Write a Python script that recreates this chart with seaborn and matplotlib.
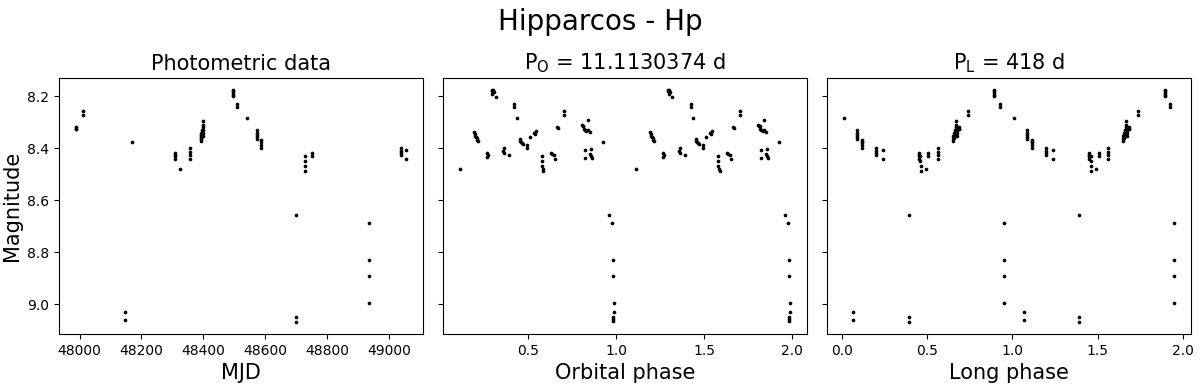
import numpy as np
import pandas as pd
import matplotlib
matplotlib.use("Agg")
import matplotlib.pyplot as plt
import seaborn as sns

# ---- Photometric data (MJD vs Hp magnitude) ----
mjd = [47987, 47988, 47988,
       48011, 48011,
       48147, 48147,
       48169,
       48309, 48309, 48309, 48309,
       48326,
       48356, 48356, 48356, 48356,
       48391, 48391, 48391, 48393, 48393, 48393, 48397, 48397,
       48400, 48400, 48400, 48400, 48400, 48400,
       48495, 48495, 48495, 48495, 48495,
       48508, 48508,
       48541,
       48574, 48574, 48574, 48574, 48574,
       48586, 48586, 48586, 48586,
       48701, 48701, 48701,
       48730, 48730, 48730, 48730,
       48751, 48751,
       48935, 48935, 48935, 48935,
       49040, 49040, 49040, 49040,
       49056, 49056]
mag_t = [8.318, 8.325, 8.328,
         8.258, 8.274,
         9.031, 9.061,
         8.377,
         8.418, 8.425, 8.432, 8.440,
         8.482,
         8.400, 8.415, 8.425, 8.440,
         8.355, 8.365, 8.372, 8.340, 8.350, 8.360, 8.330, 8.345,
         8.295, 8.310, 8.320, 8.330, 8.340, 8.355,
         8.175, 8.180, 8.188, 8.195, 8.200,
         8.230, 8.240,
         8.284,
         8.332, 8.340, 8.348, 8.356, 8.363,
         8.368, 8.378, 8.388, 8.398,
         8.659, 9.051, 9.070,
         8.432, 8.450, 8.468, 8.488,
         8.419, 8.430,
         8.686, 8.831, 8.893, 8.995,
         8.400, 8.410, 8.418, 8.426,
         8.407, 8.440]

# ---- Orbital phase (one cycle; drawn twice) ----
orb_phase = [0.112,
             0.193, 0.197, 0.200, 0.204, 0.208, 0.212, 0.217,
             0.268, 0.270, 0.268,
             0.293, 0.297, 0.302, 0.306, 0.298, 0.319,
             0.362, 0.360, 0.364, 0.390,
             0.423, 0.423,
             0.438,
             0.452, 0.456, 0.460, 0.465, 0.470,
             0.492, 0.492,
             0.509,
             0.534, 0.538, 0.543,
             0.581, 0.581, 0.580, 0.585, 0.588,
             0.632, 0.636, 0.649, 0.655,
             0.665, 0.668,
             0.705, 0.705,
             0.805, 0.810, 0.815, 0.820, 0.826, 0.832, 0.843, 0.852, 0.840,
             0.824, 0.824, 0.852, 0.858, 0.862, 0.855,
             0.924,
             0.962, 0.975, 0.983, 0.983, 0.990, 0.988,
             0.980, 0.985, 0.982]
mag_orb = [8.482,
           8.337, 8.345, 8.352, 8.358, 8.362, 8.367, 8.372,
           8.420, 8.428, 8.434,
           8.175, 8.180, 8.177, 8.185, 8.190, 8.204,
           8.400, 8.410, 8.418, 8.425,
           8.230, 8.240,
           8.284,
           8.366, 8.372, 8.376, 8.380, 8.384,
           8.386, 8.398,
           8.358,
           8.340, 8.347, 8.335,
           8.432, 8.450, 8.468, 8.480, 8.488,
           8.419, 8.422, 8.427, 8.440,
           8.318, 8.322,
           8.258, 8.274,
           8.311, 8.313, 8.316, 8.325, 8.330, 8.333, 8.293, 8.337, 8.330,
           8.407, 8.439, 8.424, 8.405, 8.437, 8.430,
           8.377,
           8.659, 8.686, 8.831, 8.893, 8.995, 9.031,
           9.051, 9.058, 9.065]

# ---- Long phase (P = 418 d; one cycle; drawn twice) ----
long_phase = [0.010,
              0.066, 0.066,
              0.086, 0.086, 0.087, 0.088, 0.088,
              0.114, 0.114, 0.115, 0.115, 0.118,
              0.200, 0.200, 0.200, 0.200,
              0.238, 0.238,
              0.393, 0.393, 0.393,
              0.450, 0.450, 0.451, 0.451,
              0.460, 0.460, 0.461, 0.462,
              0.492,
              0.507, 0.507,
              0.564, 0.564, 0.564, 0.564,
              0.650, 0.650, 0.650, 0.655, 0.655, 0.655, 0.663, 0.663,
              0.670, 0.670, 0.670, 0.672, 0.672, 0.672,
              0.687, 0.687, 0.687,
              0.737, 0.737,
              0.895, 0.895, 0.895, 0.895, 0.895,
              0.928, 0.928,
              0.952, 0.952, 0.952, 0.952]
mag_long = [8.284,
            9.031, 9.061,
            8.332, 8.340, 8.348, 8.356, 8.363,
            8.368, 8.378, 8.388, 8.398, 8.377,
            8.400, 8.410, 8.418, 8.426,
            8.407, 8.440,
            8.659, 9.051, 9.070,
            8.418, 8.425, 8.432, 8.440,
            8.432, 8.450, 8.468, 8.488,
            8.482,
            8.419, 8.430,
            8.400, 8.415, 8.425, 8.440,
            8.355, 8.365, 8.372, 8.340, 8.350, 8.360, 8.330, 8.345,
            8.295, 8.310, 8.320, 8.330, 8.340, 8.355,
            8.318, 8.325, 8.328,
            8.258, 8.274,
            8.175, 8.180, 8.188, 8.195, 8.200,
            8.230, 8.240,
            8.686, 8.831, 8.893, 8.995]

suptitle = "Hipparcos - Hp"
titles = ["Photometric data", r"P$_\mathrm{O}$ = 11.1130374 d", r"P$_\mathrm{L}$ = 418 d"]
xlabels = ["MJD", "Orbital phase", "Long phase"]

df_t = pd.DataFrame({"x": mjd, "mag": mag_t})
df_o = pd.DataFrame({"x": np.concatenate([orb_phase, np.array(orb_phase) + 1]),
                     "mag": np.concatenate([mag_orb, mag_orb])})
df_l = pd.DataFrame({"x": np.concatenate([long_phase, np.array(long_phase) + 1]),
                     "mag": np.concatenate([mag_long, mag_long])})

fig, axes = plt.subplots(1, 3, figsize=(12, 3.85), dpi=100, sharey=True)
fig.subplots_adjust(left=0.0492, right=0.9925, top=0.7974, bottom=0.1325, wspace=0.056)

for ax, df, title, xl in zip(axes, [df_t, df_o, df_l], titles, xlabels):
    sns.scatterplot(data=df, x="x", y="mag", ax=ax, color="black", s=7,
                    linewidth=0, legend=False)
    ax.set_title(title, fontsize=15)
    ax.set_xlabel(xl, fontsize=15)
    ax.set_ylabel("")
    ax.tick_params(labelsize=10)

axes[0].set_ylabel("Magnitude", fontsize=15)
axes[0].set_yticks([8.2, 8.4, 8.6, 8.8, 9.0])
axes[0].invert_yaxis()
axes[0].set_xticks([48000, 48200, 48400, 48600, 48800, 49000])
axes[1].set_xticks([0.5, 1.0, 1.5, 2.0])
axes[2].set_xticks([0.0, 0.5, 1.0, 1.5, 2.0])

fig.suptitle(suptitle, fontsize=20)
fig.savefig("out.png", dpi=100)
